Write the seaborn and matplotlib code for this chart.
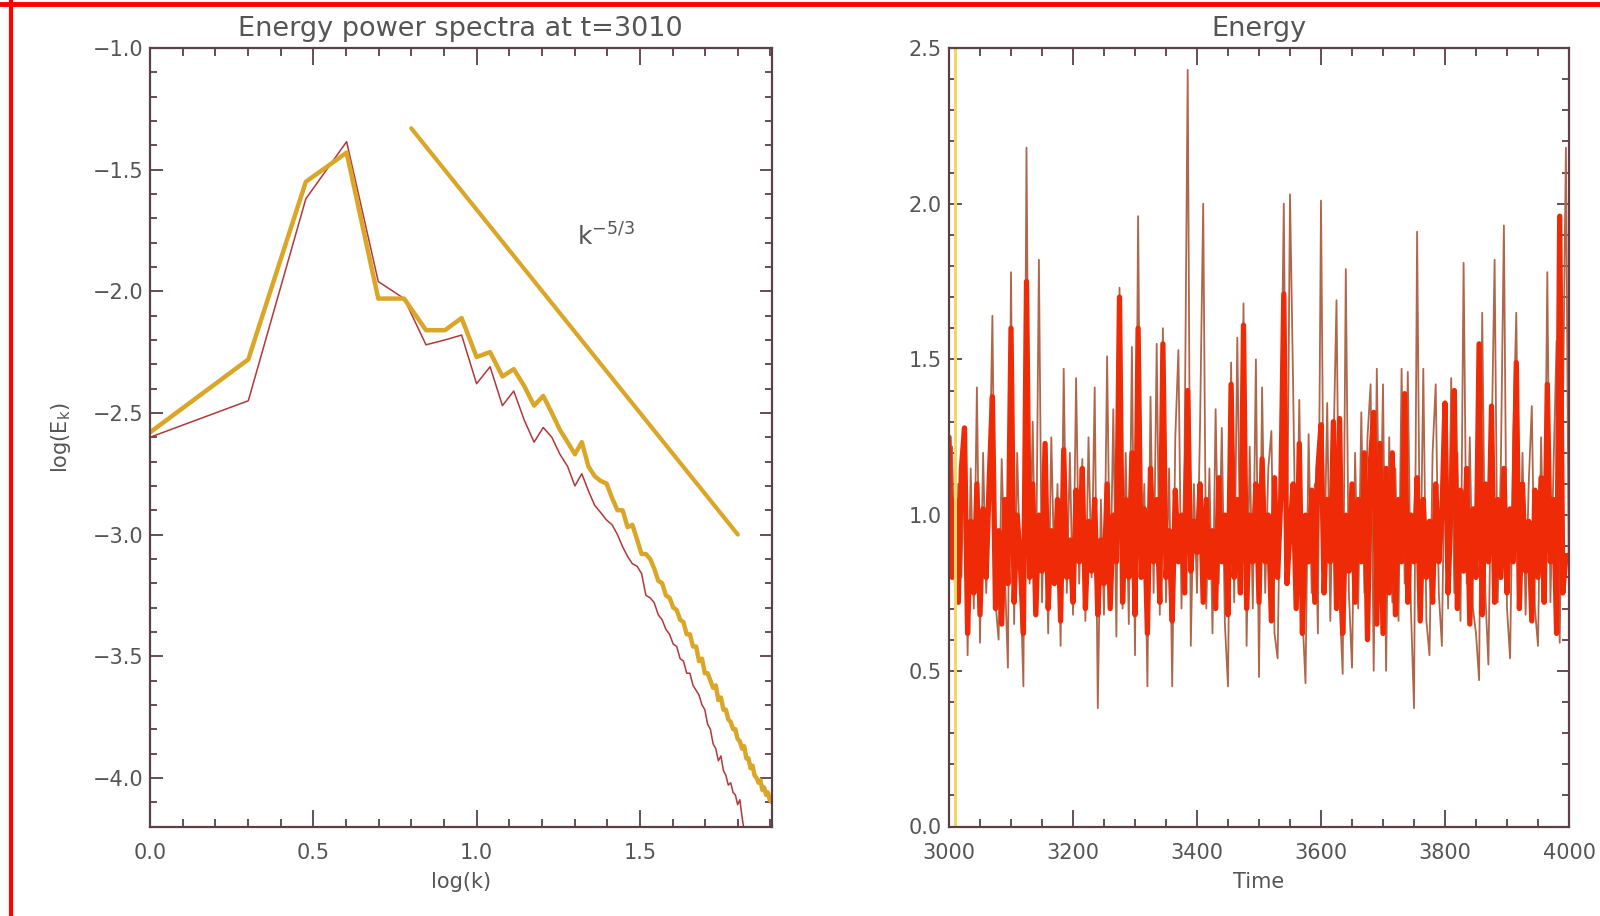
import numpy as np
import matplotlib
matplotlib.use("Agg")
import matplotlib.pyplot as plt
from matplotlib.ticker import MultipleLocator, FuncFormatter
from matplotlib.lines import Line2D
import seaborn as sns

# ---------------------------------------------------------------- data
snapshot_time = 3010

# shell wavenumbers k = 1..80
k_modes = np.arange(1, 81)

# log10 spectral energy, thick curve
spectrum_thick = [
    -2.58, -2.28, -1.55, -1.43, -2.03, -2.03, -2.16, -2.16, -2.11, -2.27,
    -2.25, -2.35, -2.32, -2.39, -2.47, -2.43, -2.50, -2.57, -2.62, -2.67,
    -2.62, -2.72, -2.76, -2.78, -2.79, -2.85, -2.90, -2.90, -2.97, -2.96,
    -3.02, -3.08, -3.08, -3.10, -3.14, -3.19, -3.20, -3.25, -3.26, -3.30,
    -3.31, -3.35, -3.36, -3.41, -3.41, -3.46, -3.46, -3.52, -3.51, -3.57,
    -3.57, -3.60, -3.63, -3.62, -3.68, -3.67, -3.72, -3.72, -3.76, -3.77,
    -3.80, -3.80, -3.84, -3.85, -3.88, -3.87, -3.92, -3.92, -3.96, -3.95,
    -3.99, -4.00, -4.02, -4.01, -4.05, -4.04, -4.07, -4.06, -4.09, -4.10,
]

# log10 spectral energy, thin curve
spectrum_thin = [
    -2.60, -2.45, -1.62, -1.385, -1.96, -2.03, -2.22, -2.20, -2.18, -2.38,
    -2.31, -2.47, -2.41, -2.53, -2.62, -2.56, -2.60, -2.67, -2.72, -2.80,
    -2.75, -2.82, -2.88, -2.91, -2.94, -2.96, -3.00, -3.05, -3.09, -3.12,
    -3.13, -3.16, -3.25, -3.26, -3.28, -3.33, -3.35, -3.39, -3.41, -3.45,
    -3.46, -3.51, -3.52, -3.57, -3.57, -3.62, -3.64, -3.66, -3.70, -3.72,
    -3.78, -3.80, -3.86, -3.88, -3.93, -3.91, -3.97, -3.99, -4.03, -4.02,
    -4.06, -4.07, -4.11, -4.09, -4.16, -4.22, -4.27, -4.31, -4.36, -4.39,
    -4.43, -4.47, -4.50, -4.54, -4.58, -4.61, -4.65, -4.68, -4.72, -4.75,
]

# k^(-5/3) reference slope
ref_logk = [0.8, 1.8]
ref_logE = [-1.33, -3.0]
ref_label = r"k$^{-5/3}$"

# energy time series, sampled every 5 time units from 3000 to 4000
time_values = np.arange(3000, 4001, 5)

energy_thin = [
    0.95, 1.22, 0.72, 1.10, 0.80, 1.28, 0.55, 1.15, 0.70, 1.41,
    0.59, 1.20, 0.75, 1.05, 1.64, 0.72, 0.60, 1.18, 0.82, 0.51,
    1.78, 0.65, 1.20, 0.80, 0.45, 2.18, 0.78, 1.30, 0.70, 1.82,
    0.72, 1.15, 0.62, 1.25, 0.80, 1.10, 0.58, 1.47, 0.75, 1.20,
    0.68, 1.44, 0.78, 1.18, 0.66, 1.25, 0.80, 1.41, 0.38, 1.05,
    0.68, 1.51, 0.72, 1.34, 0.61, 1.73, 0.70, 1.20, 0.65, 1.54,
    0.55, 1.96, 0.80, 1.10, 0.45, 1.38, 0.75, 1.55, 0.68, 1.60,
    0.72, 1.15, 0.45, 1.25, 1.53, 0.70, 1.20, 2.43, 0.58, 1.10,
    0.75, 1.30, 2.00, 0.70, 1.15, 0.62, 1.34, 0.78, 1.28, 0.65,
    0.45, 1.49, 0.72, 1.57, 0.80, 1.68, 0.58, 1.22, 0.70, 1.50,
    0.48, 1.41, 0.75, 1.15, 1.27, 0.62, 0.54, 1.20, 2.00, 0.82,
    2.03, 1.42, 0.72, 1.37, 0.68, 0.46, 1.26, 0.75, 1.10, 0.62,
    2.01, 0.80, 1.36, 0.66, 1.20, 1.69, 0.72, 0.49, 1.79, 0.75,
    0.51, 1.20, 0.70, 1.33, 0.75, 1.25, 1.42, 0.50, 1.47, 0.80,
    1.42, 0.50, 1.25, 0.72, 1.15, 0.66, 1.47, 0.78, 1.46, 0.70,
    0.38, 1.91, 0.72, 1.47, 0.66, 0.55, 1.20, 1.42, 0.75, 0.58,
    1.30, 0.70, 1.44, 0.75, 1.20, 0.66, 1.81, 0.78, 1.25, 0.70,
    0.62, 0.47, 1.65, 0.75, 0.52, 1.20, 1.82, 0.72, 1.15, 1.93,
    0.70, 0.54, 1.25, 1.65, 0.72, 1.20, 0.68, 1.10, 1.35, 0.70,
    0.58, 1.25, 0.75, 1.78, 0.72, 1.15, 1.56, 0.59, 1.30, 2.18,
    0.72,
]

energy_thick = [
    1.25, 0.80, 1.05, 0.72, 1.15, 1.28, 0.62, 0.98, 0.75, 1.10,
    0.68, 1.02, 0.80, 1.12, 1.38, 0.70, 0.95, 0.65, 1.05, 0.78,
    1.60, 0.72, 1.00, 0.85, 0.62, 1.75, 0.80, 1.10, 0.68, 1.00,
    0.82, 1.23, 0.70, 0.95, 0.78, 1.05, 0.66, 1.21, 0.80, 0.92,
    0.72, 1.08, 0.85, 1.15, 0.70, 0.98, 0.82, 1.05, 0.68, 0.92,
    0.78, 1.10, 0.70, 1.00, 0.85, 1.70, 0.72, 1.05, 0.80, 1.20,
    0.68, 1.60, 0.80, 1.02, 0.62, 1.15, 0.85, 1.05, 0.72, 1.55,
    0.80, 0.95, 0.66, 1.08, 0.85, 1.00, 0.75, 1.40, 0.82, 0.98,
    0.88, 1.10, 0.72, 1.05, 0.80, 0.95, 0.70, 1.12, 0.85, 1.00,
    0.68, 1.42, 0.80, 1.05, 0.75, 1.61, 0.70, 1.00, 0.85, 1.10,
    0.72, 1.18, 0.85, 1.00, 0.66, 1.12, 0.80, 1.05, 1.71, 0.78,
    0.95, 1.10, 0.70, 1.23, 0.62, 1.00, 0.85, 1.08, 0.72, 1.15,
    1.29, 0.75, 1.05, 0.85, 1.30, 0.70, 1.31, 0.62, 1.00, 0.82,
    1.10, 0.72, 1.05, 0.85, 1.20, 0.60, 1.18, 1.33, 0.65, 1.23,
    0.62, 1.15, 0.75, 1.20, 0.68, 1.05, 0.85, 1.39, 0.72, 1.00,
    0.85, 1.12, 0.66, 1.05, 0.80, 0.98, 0.72, 1.10, 0.85, 1.00,
    1.36, 0.75, 1.05, 1.40, 0.70, 1.08, 0.82, 1.15, 0.65, 1.02,
    0.80, 1.55, 0.68, 1.10, 0.85, 1.35, 0.72, 1.05, 0.80, 1.15,
    0.75, 1.02, 0.85, 1.49, 0.70, 1.10, 0.82, 0.98, 0.66, 1.08,
    0.80, 1.12, 0.72, 1.42, 0.85, 1.05, 0.62, 1.96, 0.75, 0.87,
    0.87,
]

# ---------------------------------------------------------------- style
sns.set_theme(style="white")
plt.rcParams["font.family"] = ["DejaVu Sans"]

TEXT = "#555555"
FRAME = "#5c4048"
GOLD = "#dba628"
MAROON = "#b0383a"
RED = "#ee2b06"
BROWN = "#b0664a"
MARKER = "#f0d862"


def minus_fmt(v, _):
    return f"{v:.1f}".replace("-", "\u2212")


def idl_frame(ax):
    for sp in ax.spines.values():
        sp.set_visible(True)
        sp.set_color(FRAME)
        sp.set_linewidth(1.6)
    ax.tick_params(which="both", direction="in", top=True, right=True,
                   bottom=True, left=True, color=FRAME, width=1.3,
                   labelcolor=TEXT, labelsize=15)
    ax.tick_params(axis="x", which="major", length=12, pad=12)
    ax.tick_params(axis="x", which="minor", length=6)
    ax.tick_params(axis="y", which="major", length=9, pad=5)
    ax.tick_params(axis="y", which="minor", length=5)
    ax.grid(False)
    ax.set_facecolor("white")


fig = plt.figure(figsize=(16, 9.16), dpi=100)
fig.patch.set_facecolor("white")

ax1 = fig.add_axes([150 / 1600, 89.5 / 916, 621.5 / 1600, 778.5 / 916])
ax2 = fig.add_axes([949 / 1600, 89.5 / 916, 620 / 1600, 778.5 / 916])

# ---------------------------------------------------------------- spectra
logk = np.log10(k_modes)
sns.lineplot(x=logk, y=spectrum_thin, ax=ax1, color=MAROON, lw=1.1,
             sort=False, estimator=None)
sns.lineplot(x=logk, y=spectrum_thick, ax=ax1, color=GOLD, lw=3.2,
             sort=False, estimator=None)
sns.lineplot(x=ref_logk, y=ref_logE, ax=ax1, color=GOLD, lw=3.0,
             sort=False, estimator=None)
ax1.text(1.307, -1.776, ref_label, color=TEXT, fontsize=18,
         ha="left", va="center")

ax1.set_xlim(0, np.log10(80))
ax1.set_ylim(-4.2, -1.0)
ax1.xaxis.set_major_locator(MultipleLocator(0.5))
ax1.xaxis.set_minor_locator(MultipleLocator(0.1))
ax1.yaxis.set_major_locator(MultipleLocator(0.5))
ax1.yaxis.set_minor_locator(MultipleLocator(0.1))
ax1.xaxis.set_major_formatter(FuncFormatter(minus_fmt))
ax1.yaxis.set_major_formatter(FuncFormatter(minus_fmt))
idl_frame(ax1)
ax1.set_title(f"Energy power spectra at t={snapshot_time}", color=TEXT,
              fontsize=19.5, pad=9)
ax1.set_xlabel("log(k)", color=TEXT, fontsize=15, labelpad=6)
ax1.set_ylabel(r"log(E$_{\rm k}$)", color=TEXT, fontsize=15, labelpad=14)

# ---------------------------------------------------------------- energy history
sns.lineplot(x=time_values, y=energy_thin, ax=ax2, color=BROWN, lw=1.3,
             sort=False, estimator=None)
sns.lineplot(x=time_values, y=energy_thick, ax=ax2, color=RED, lw=3.8,
             sort=False, estimator=None)
ax2.axvline(snapshot_time, color=MARKER, lw=2.2)

ax2.set_xlim(3000, 4000)
ax2.set_ylim(0, 2.5)
ax2.xaxis.set_major_locator(MultipleLocator(200))
ax2.xaxis.set_minor_locator(MultipleLocator(50))
ax2.yaxis.set_major_locator(MultipleLocator(0.5))
ax2.yaxis.set_minor_locator(MultipleLocator(0.1))
ax2.yaxis.set_major_formatter(FuncFormatter(minus_fmt))
idl_frame(ax2)
ax2.set_title("Energy", color=TEXT, fontsize=19.5, pad=9)
ax2.set_xlabel("Time", color=TEXT, fontsize=15, labelpad=6)

# red border along the left and top edges
fig.add_artist(Line2D([11 / 1600, 11 / 1600], [0, 1], color="#ff0000",
                      lw=3, transform=fig.transFigure))
fig.add_artist(Line2D([0, 1], [1 - 3.5 / 916, 1 - 3.5 / 916],
                      color="#ff0000", lw=3.5, transform=fig.transFigure))

fig.savefig("out.png", dpi=100, facecolor="white")
